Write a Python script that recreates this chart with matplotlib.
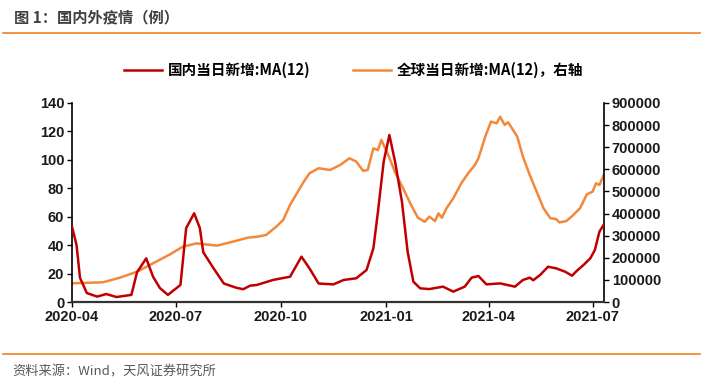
import matplotlib
matplotlib.use("Agg")
import matplotlib.pyplot as plt
import pandas as pd
from matplotlib.lines import Line2D

# ---- data ----
cn_dates = ["2020-04-01","2020-04-05","2020-04-08","2020-04-14","2020-04-23","2020-05-01","2020-05-10",
            "2020-05-23","2020-05-28","2020-06-05","2020-06-11","2020-06-17","2020-06-24","2020-07-05",
            "2020-07-10","2020-07-17","2020-07-22","2020-07-25","2020-08-03","2020-08-12","2020-08-23",
            "2020-08-29","2020-09-04","2020-09-10","2020-09-24","2020-10-09","2020-10-19","2020-10-26",
            "2020-11-03","2020-11-16","2020-11-25","2020-12-06","2020-12-15","2020-12-21","2020-12-25",
            "2020-12-30","2021-01-04","2021-01-09","2021-01-15","2021-01-20","2021-01-25","2021-01-31",
            "2021-02-08","2021-02-20","2021-03-01","2021-03-11","2021-03-17","2021-03-23","2021-03-30",
            "2021-04-11","2021-04-24","2021-05-01","2021-05-07","2021-05-10","2021-05-16","2021-05-23",
            "2021-05-30","2021-06-07","2021-06-13","2021-06-17","2021-06-23","2021-06-29","2021-07-03",
            "2021-07-07","2021-07-11"]
cn_values = [53, 40, 17, 6.3, 3.8, 5.6, 3.5,
             5, 21, 30.7, 17.8, 9.8, 5, 12,
             52, 62.4, 52, 35, 23.7, 13, 10,
             9, 11.5, 12, 15.5, 17.8, 31.9, 23.7,
             13, 12.4, 15.5, 16.7, 22.5, 37.8, 63.5,
             98.7, 117.5, 98.7, 70.6, 35.4, 14.3, 9.6,
             9.1, 10.8, 7.3, 10.8, 17.1, 18.3, 12.4,
             13.1, 10.8, 15.5, 17.1, 15.3, 19, 24.8,
             23.7, 21.3, 18.5, 21.8, 26, 30.7, 36.6,
             49.5, 54.7]

gl_dates = ["2020-04-01","2020-04-28","2020-05-13","2020-05-28","2020-06-11","2020-06-26","2020-07-07",
            "2020-07-19","2020-08-06","2020-08-20","2020-09-02","2020-09-10","2020-09-18","2020-09-27",
            "2020-10-03","2020-10-09","2020-10-15","2020-10-21","2020-10-26","2020-11-03","2020-11-13",
            "2020-11-22","2020-11-30","2020-12-06","2020-12-12","2020-12-16","2020-12-21","2020-12-25",
            "2020-12-28","2021-01-03","2021-01-09","2021-01-16","2021-01-23","2021-01-29","2021-02-04",
            "2021-02-08","2021-02-13","2021-02-16","2021-02-19","2021-02-23","2021-03-01","2021-03-08",
            "2021-03-14","2021-03-20","2021-03-23","2021-03-29","2021-04-03","2021-04-08","2021-04-11",
            "2021-04-15","2021-04-18","2021-04-26","2021-05-01","2021-05-07","2021-05-13","2021-05-19",
            "2021-05-25","2021-05-30","2021-06-02","2021-06-08","2021-06-14","2021-06-20","2021-06-26",
            "2021-07-01","2021-07-04","2021-07-07","2021-07-11"]
gl_values = [84600, 89000, 110000, 137000, 175000, 216000, 250000,
             265000, 255000, 273000, 291000, 295000, 303000, 341000,
             371000, 439000, 492000, 544000, 582000, 605000, 597000,
             620000, 650000, 635000, 593000, 597000, 695000, 687000,
             733000, 665000, 587000, 514000, 439000, 381000, 363000,
             386000, 366000, 401000, 381000, 424000, 469000, 537000,
             582000, 620000, 650000, 748000, 816000, 808000, 838000,
             801000, 813000, 748000, 657000, 574000, 499000, 424000,
             379000, 375000, 360000, 366000, 393000, 424000, 487000,
             499000, 537000, 529000, 578000]

xtick_labels = ["2020-04", "2020-07", "2020-10", "2021-01", "2021-04", "2021-07"]
left_ticks = [0, 20, 40, 60, 80, 100, 120, 140]
right_ticks = [0, 100000, 200000, 300000, 400000, 500000, 600000, 700000, 800000, 900000]

legend_cn = "国内当日新增:MA(12)"
legend_gl = "全球当日新增:MA(12)，右轴"
title = "图 1：国内外疫情（例）"
source = "资料来源：Wind，天风证券研究所"

# ---- style ----
RED = "#C00000"
ORANGE = "#F4883A"
ACCENT = "#EE8222"
CJK = ["Noto Sans CJK SC", "DejaVu Sans"]
NUM = ["Liberation Sans", "DejaVu Sans"]

fig = plt.figure(figsize=(7.03, 3.83), dpi=100)
ax = fig.add_axes([72/703, 1-302/383, (604-72)/703, (302-103)/383])
ax2 = ax.twinx()

cd = pd.to_datetime(cn_dates)
gd = pd.to_datetime(gl_dates)
ax2.plot(gd, gl_values, color=ORANGE, lw=1.8, zorder=2)
ax.plot(cd, cn_values, color=RED, lw=1.8, zorder=3)
ax.set_zorder(ax2.get_zorder() + 1)
ax.patch.set_visible(False)

ax.set_xlim(pd.Timestamp("2020-04-01"), pd.Timestamp("2021-07-11"))
ax.set_ylim(0, 140)
ax2.set_ylim(0, 900000)
ax.set_yticks(left_ticks)
ax2.set_yticks(right_ticks)
ax.set_xticks(pd.to_datetime([s + "-01" for s in xtick_labels]))
ax.set_xticklabels(xtick_labels)

for a in (ax, ax2):
    a.spines["top"].set_visible(False)
    for lab in a.get_yticklabels() + a.get_xticklabels():
        lab.set_fontfamily(NUM)
        lab.set_fontweight("bold")
        lab.set_fontsize(10.5)
        lab.set_color("#1a1a1a")
ax.spines["right"].set_visible(False)
ax2.spines["left"].set_visible(False)
ax2.spines["bottom"].set_visible(False)
ax.spines["left"].set_linewidth(1.2)
ax.spines["bottom"].set_linewidth(1.6)
ax.spines["bottom"].set_color("#333333")
ax2.spines["right"].set_linewidth(1.2)
ax.tick_params(axis="both", direction="out", length=3.5, width=1, pad=2)
ax2.tick_params(axis="y", direction="out", length=3.5, width=1, pad=2)

handles = [Line2D([], [], color=RED, lw=1.8), Line2D([], [], color=ORANGE, lw=1.8)]
fig.legend(handles, [legend_cn, legend_gl], loc="center", bbox_to_anchor=(0.503, 1-70/383),
           ncol=2, frameon=False, handlelength=2.6, handletextpad=0.4, columnspacing=2.9,
           prop={"family": CJK, "weight": "bold", "size": 10.5})

fig.text(14/703, 1-17/383, title, family=CJK, weight="bold", size=11, color="#404040", va="center")
fig.add_artist(Line2D([3/703, 700/703], [1-33/383, 1-33/383], color=ACCENT, lw=1.2))
fig.add_artist(Line2D([3/703, 700/703], [1-354/383, 1-354/383], color=ACCENT, lw=1.2))
fig.text(12/703, 1-372/383, source, family=CJK, size=9.5, color="#595959", va="center")

fig.savefig("out.png", dpi=100)
